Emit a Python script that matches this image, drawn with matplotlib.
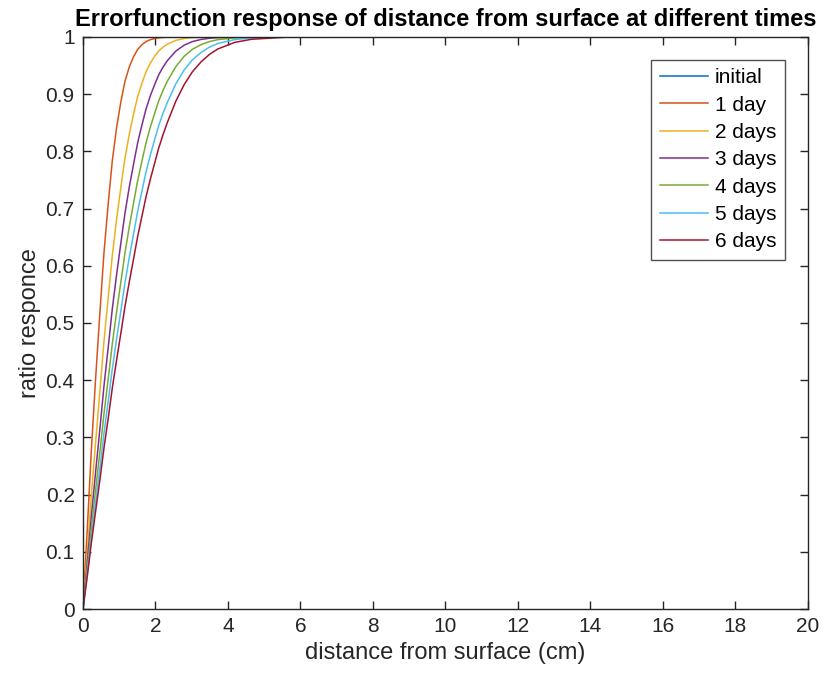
import matplotlib
matplotlib.use("Agg")
import matplotlib.pyplot as plt

# values
distance = [0, 0.12, 0.23, 0.35, 0.47, 0.58, 0.70, 0.81, 0.93, 1.05, 1.16,
            1.28, 1.40, 1.51, 1.63, 1.74, 1.86, 1.98, 2.09, 2.21, 2.33,
            2.56, 2.79, 3.02, 3.26, 3.49, 3.72, 4.19, 4.65, 5.58, 20]
initial = [1] * len(distance)
day1 = [0, 0.1402, 0.2763, 0.4039, 0.5205, 0.6230, 0.7112, 0.7838, 0.8427, 0.8882, 0.9229,
        0.9480, 0.9661, 0.9784, 0.9867, 0.9920, 0.9953, 0.9973, 0.9985, 0.9992, 0.9996,
        0.9999, 1, 1, 1, 1, 1, 1, 1, 1, 1]
day2 = [0, 0.0994, 0.1973, 0.2922, 0.3829, 0.4679, 0.5465, 0.6182, 0.6825, 0.7393, 0.7885,
        0.8306, 0.8662, 0.8958, 0.9197, 0.9391, 0.9544, 0.9664, 0.9755, 0.9824, 0.9875,
        0.9940, 0.9973, 0.9989, 0.9995, 0.9998, 0.9999, 1, 1, 1, 1]
day3 = [0, 0.0812, 0.1617, 0.2404, 0.3168, 0.3900, 0.4595, 0.5249, 0.5855, 0.6417, 0.6923,
        0.7383, 0.7791, 0.8152, 0.8468, 0.8740, 0.8975, 0.9171, 0.9338, 0.9474, 0.9587,
        0.9752, 0.9856, 0.9920, 0.9957, 0.9978, 0.9989, 0.9998, 1, 1, 1]
day4 = [0, 0.0704, 0.1402, 0.2090, 0.2763, 0.3413, 0.4039, 0.4637, 0.5205, 0.5735, 0.6230,
        0.6689, 0.7112, 0.7492, 0.7838, 0.8149, 0.8427, 0.8669, 0.8882, 0.9068, 0.9229,
        0.9480, 0.9661, 0.9784, 0.9867, 0.9920, 0.9953, 0.9985, 0.9996, 1, 1]
day5 = [0, 0.0630, 0.1256, 0.1874, 0.2480, 0.3072, 0.3646, 0.4199, 0.4729, 0.5232, 0.5706,
        0.6153, 0.6569, 0.6956, 0.7314, 0.7641, 0.7940, 0.8210, 0.8452, 0.8668, 0.8860,
        0.9178, 0.9421, 0.9601, 0.9731, 0.9822, 0.9886, 0.9955, 0.9984, 0.9999, 1]
day6 = [0, 0.0575, 0.1148, 0.1714, 0.2271, 0.2817, 0.3349, 0.3865, 0.4362, 0.4838, 0.5293,
        0.5725, 0.6133, 0.6516, 0.6874, 0.7207, 0.7515, 0.7799, 0.8058, 0.8294, 0.8508,
        0.8874, 0.9165, 0.9392, 0.9566, 0.9695, 0.9790, 0.9906, 0.9960, 0.9995, 1]

series = [initial, day1, day2, day3, day4, day5, day6]
labels = ["initial", "1 day", "2 days", "3 days", "4 days", "5 days", "6 days"]
colors = ["#0072BD", "#D95319", "#EDB120", "#7E2F8E", "#77AC30", "#4DBEEE", "#A2142F"]

xticks = list(range(0, 21, 2))
yticks = [0, 0.1, 0.2, 0.3, 0.4, 0.5, 0.6, 0.7, 0.8, 0.9, 1]
ytick_labels = ["0", "0.1", "0.2", "0.3", "0.4", "0.5", "0.6", "0.7", "0.8", "0.9", "1"]

plt.rcParams["font.family"] = ["Liberation Sans", "DejaVu Sans"]
axc = "#262626"

fig = plt.figure(figsize=(8.38, 6.81), dpi=100)
ax = fig.add_axes([0.099, 0.1057, 0.865, 0.840])

for y, lab, c in zip(series, labels, colors):
    ax.plot(distance, y, color=c, linewidth=1.1, label=lab)

ax.set_xlim(0, 20)
ax.set_ylim(0, 1)
ax.set_xticks(xticks)
ax.set_xticklabels([str(t) for t in xticks])
ax.set_yticks(yticks)
ax.set_yticklabels(ytick_labels)
ax.tick_params(direction="in", length=6, width=1, top=True, right=True,
               labelsize=15, colors=axc, pad=6)
for s in ax.spines.values():
    s.set_color(axc)
    s.set_linewidth(1)

ax.set_xlabel("distance from surface (cm)", fontsize=17, color=axc, labelpad=4)
ax.set_ylabel("ratio responce", fontsize=17, color=axc, labelpad=3)
ax.set_title("Errorfunction response of distance from surface at different times",
             fontsize=17, fontweight="bold", pad=8)

leg = ax.legend(loc="upper right", bbox_to_anchor=(0.968, 0.960), borderaxespad=0,
                fontsize=15, frameon=True, fancybox=False, edgecolor=axc,
                handlelength=2.3, labelspacing=0.4, borderpad=0.4,
                handletextpad=0.35)
leg.get_frame().set_linewidth(1)

fig.savefig("out.png", dpi=100)
